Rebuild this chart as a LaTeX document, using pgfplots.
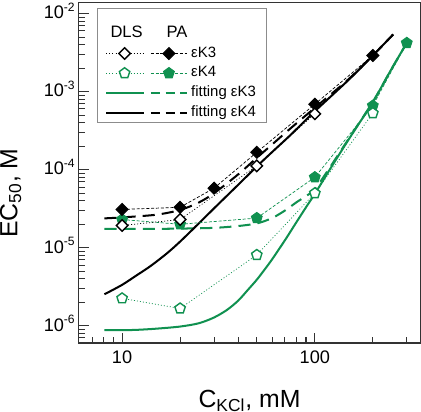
\documentclass[border=0pt]{standalone}
\usepackage{fontspec}
\setmainfont{Liberation Sans}
\usepackage{pgfplots}
\pgfplotsset{compat=1.18}
\definecolor{fitgreen}{RGB}{16,145,80}
\tikzset{
 dlsK3/.style={black, line width=0.35pt, dash pattern=on 0.5pt off 1pt, mark=square*, mark size=2.0pt, mark options={rotate=45, solid, fill=white, draw=black, line width=0.7pt}},
 paK3/.style={black, line width=0.35pt, dash pattern=on 1.5pt off 0.9pt, mark=square*, mark size=2.1pt, mark options={rotate=45, solid, fill=black, draw=black, line width=0.5pt}},
 dlsK4/.style={fitgreen, line width=0.35pt, dash pattern=on 0.5pt off 1pt, mark=pentagon*, mark size=2.7pt, mark options={solid, fill=white, draw=fitgreen, line width=0.7pt}},
 paK4/.style={fitgreen, line width=0.35pt, dash pattern=on 1.5pt off 0.9pt, mark=pentagon*, mark size=2.8pt, mark options={solid, fill=fitgreen, draw=fitgreen, line width=0.5pt}},
 fitsolid/.style={line width=1pt, solid},
 fitdash/.style={line width=1pt, dash pattern=on 6pt off 3.5pt},
}
\begin{document}
\begin{tikzpicture}
\begin{axis}[
 scale only axis, width=169.4pt, height=169pt,
 xmode=log, ymode=log,
 xmin=5.96, xmax=353, ymin=6.04e-7, ymax=0.014,
 xtick={10,100}, xticklabels={10,100},
 ytick={1e-6,1e-5,1e-4,1e-3,1e-2},
 yticklabels={10\textsuperscript{-6},10\textsuperscript{-5},10\textsuperscript{-4},10\textsuperscript{-3},10\textsuperscript{-2}},
 minor xtick={7,8,9,20,30,40,50,60,70,80,90,200,300},
 minor ytick={7e-7,8e-7,9e-7,2e-6,3e-6,4e-6,5e-6,6e-6,7e-6,8e-6,9e-6,2e-5,3e-5,4e-5,5e-5,6e-5,7e-5,8e-5,9e-5,2e-4,3e-4,4e-4,5e-4,6e-4,7e-4,8e-4,9e-4,2e-3,3e-3,4e-3,5e-3,6e-3,7e-3,8e-3,9e-3},
 tick align=inside, tick pos=left,
 major tick length=5pt, minor tick length=3pt,
 axis line style={black!80, line width=0.6pt},
 every tick/.style={black!80, line width=0.5pt},
 tick label style={font=\fontsize{9}{10}\selectfont},
 yticklabel style={anchor=base east, yshift=-2.6pt, inner sep=1.3pt},
 xticklabel style={inner sep=0pt, yshift=-3.5pt},
 xlabel={C\textsubscript{KCl}, mM},
 ylabel={EC\textsubscript{50}, M},
 label style={font=\fontsize{12.3}{14}\selectfont, inner sep=0pt},
 xlabel style={at={(ticklabel* cs:0.5,23pt)}, anchor=north},
 ylabel style={at={(ticklabel* cs:0.44,28.3pt)}, anchor=south},
 legend style={at={(rel axis cs:0.053,0.983)}, anchor=north west, draw=black!45, line width=0.5pt,
   font=\fontsize{7.4}{8.5}\selectfont, inner xsep=4pt, inner ysep=0pt, row sep=0pt,
   nodes={inner xsep=1.5pt, inner ysep=0pt, text height=6.75pt, text depth=3pt}},
 legend cell align=left,
 clip=true,
]
% legend
\addlegendimage{legend image code/.code={
  \node[font=\fontsize{8.2}{9}\selectfont, inner sep=0pt, anchor=base] at (10pt,-2.94pt) {DLS};
  \node[font=\fontsize{8.2}{9}\selectfont, inner sep=0pt, anchor=base] at (35pt,-2.94pt) {PA};
  \path (0pt,-3pt) (40pt,11.3pt);}}
\addlegendentry{}
\addlegendimage{legend image code/.code={
  \draw[dlsK3, mark indices={2}] plot coordinates {(0pt,0pt) (9pt,0pt) (18.5pt,0pt)};
  \draw[paK3, mark indices={2}] plot coordinates {(22pt,0pt) (31pt,0pt) (40pt,0pt)};
  \path (0pt,-3pt) (40pt,3pt);}}
\addlegendentry{εK3}
\addlegendimage{legend image code/.code={
  \draw[dlsK4, mark indices={2}] plot coordinates {(0pt,0pt) (9pt,0pt) (18.5pt,0pt)};
  \draw[paK4, mark indices={2}] plot coordinates {(22pt,0pt) (31pt,0pt) (40pt,0pt)};
  \path (0pt,-3pt) (40pt,3pt);}}
\addlegendentry{εK4}
\addlegendimage{legend image code/.code={
  \draw[fitgreen, fitsolid] (0pt,0pt) -- (18.5pt,0pt);
  \draw[fitgreen, line width=1pt, dash pattern=on 4.5pt off 2.8pt] (22pt,0pt) -- (40pt,0pt);
  \path (0pt,-3pt) (40pt,3pt);}}
\addlegendentry{fitting εK3}
\addlegendimage{legend image code/.code={
  \draw[black, fitsolid] (0pt,0pt) -- (18.5pt,0pt);
  \draw[black, line width=1pt, dash pattern=on 4.5pt off 2.8pt] (22pt,0pt) -- (40pt,0pt);
  \path (0pt,-3pt) (40pt,3pt);}}
\addlegendentry{fitting εK4}
% fitting curves
\addplot[fitgreen, fitsolid, smooth, forget plot] coordinates {
 (8.1,8.8e-7) (10,8.8e-7) (12,8.9e-7) (15,9.2e-7) (20,9.8e-7) (25,1.08e-6) (30,1.28e-6) (35,1.6e-6)
 (40,2.1e-6) (45,2.9e-6) (50,3.9e-6) (55,5.3e-6) (60,7.1e-6) (70,1.25e-5) (80,2.1e-5) (90,3.3e-5)
 (100,4.9e-5) (120,1.02e-4) (150,2.45e-4) (175,4.4e-4) (200,7.3e-4) (250,1.95e-3) (300,4.2e-3)};
\addplot[fitgreen, fitdash, smooth, forget plot] coordinates {
 (8.1,1.75e-5) (10,1.75e-5) (15,1.75e-5) (20,1.76e-5) (30,1.8e-5) (40,1.9e-5) (50,2.05e-5)
 (60,2.4e-5) (70,3.0e-5) (80,3.8e-5) (90,4.6e-5) (100,5.6e-5) (120,1.08e-4) (150,2.5e-4)
 (200,7.4e-4) (250,1.95e-3) (300,4.2e-3)};
\addplot[black, fitsolid, smooth, forget plot] coordinates {
 (8.1,2.54e-6) (10,3.35e-6) (12,4.5e-6) (14,5.8e-6) (17,8.4e-6) (20,1.2e-5) (25,2.05e-5) (30,3.2e-5)
 (40,6.4e-5) (50,1.1e-4) (60,1.68e-4) (75,2.8e-4) (100,5.6e-4) (150,1.42e-3) (200,2.9e-3) (255,5.4e-3)};
\addplot[black, fitdash, smooth, forget plot] coordinates {
 (8.1,2.38e-5) (10,2.45e-5) (15,2.65e-5) (20,3.05e-5) (25,3.8e-5) (30,5.0e-5) (40,8.7e-5)
 (50,1.42e-4) (60,2.1e-4) (75,3.4e-4) (100,6.2e-4) (150,1.45e-3) (200,2.9e-3) (255,5.4e-3)};
% data
\addplot[paK4, forget plot] coordinates {(10,2.3e-5) (20,2.0e-5) (50,2.4e-5) (100,8.0e-5) (200,6.6e-4) (300,4.2e-3)};
\addplot[dlsK4, forget plot] coordinates {(10,2.25e-6) (20,1.67e-6) (50,8.1e-6) (100,5.0e-5) (200,5.3e-4)};
\addplot[paK3, forget plot] coordinates {(10,3.1e-5) (20,3.3e-5) (30,5.8e-5) (50,1.67e-4) (100,6.9e-4) (200,2.9e-3)};
\addplot[dlsK3, forget plot] coordinates {(10,1.93e-5) (20,2.3e-5) (50,1.12e-4) (100,5.2e-4)};
\end{axis}
\end{tikzpicture}
\end{document}
